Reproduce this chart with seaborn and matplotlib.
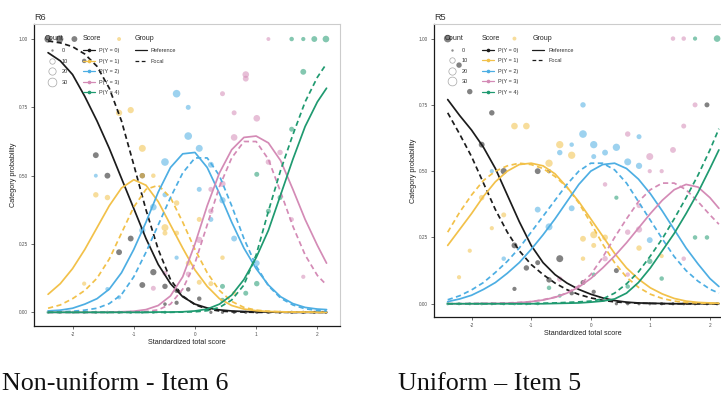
import numpy as np
import pandas as pd
import matplotlib
matplotlib.use("Agg")
import matplotlib.pyplot as plt
import seaborn as sns
from matplotlib.lines import Line2D

sns.set_theme(style="white")
plt.rcParams["font.family"] = ["Liberation Sans", "DejaVu Sans"]

# ---------------- data ----------------
CATEGORIES = ["P(Y = 0)", "P(Y = 1)", "P(Y = 2)", "P(Y = 3)", "P(Y = 4)"]
COLORS = ["#1c1c1c", "#F2C14A", "#4DAEE3", "#D48BB6", "#1F9A70"]
GROUPS = ["Reference", "Focal"]
COUNT_LEVELS = [0, 10, 20, 30]
X_TICKS = [-2, -1, 0, 1, 2]
Y_TICKS = [0.0, 0.25, 0.5, 0.75, 1.0]
Y_TICK_LABELS = ["0.00", "0.25", "0.50", "0.75", "1.00"]
PANEL_TITLES = ["R6", "R5"]
CAPTIONS = ["Non-uniform - Item 6", "Uniform \u2013 Item 5"]

CURVE_X = [-2.4, -2.2, -2.0, -1.8, -1.6, -1.4, -1.2, -1.0, -0.8, -0.6, -0.4, -0.2,
           0.0, 0.2, 0.4, 0.6, 0.8, 1.0, 1.2, 1.4, 1.6, 1.8, 2.0, 2.15]

# R6 (non-uniform) - reference group curves
R6_REF_P0 = [.95, .92, .87, .79, .70, .60, .49, .38, .27, .175, .105, .057, .03, .016, .009, .005, .003, .002, .001, .001, 0, 0, 0, 0]
R6_REF_P1 = [.066, .105, .16, .23, .31, .39, .455, .485, .465, .405, .32, .235, .155, .095, .05, .025, .012, .006, .003, .002, .001, .001, 0, 0]
R6_REF_P2 = [.005, .008, .015, .03, .05, .085, .145, .23, .33, .44, .53, .58, .585, .53, .435, .33, .235, .16, .10, .057, .032, .018, .012, .01]
R6_REF_P3 = [0, 0, 0, 0, 0, .001, .002, .004, .01, .025, .06, .13, .25, .39, .51, .595, .64, .645, .62, .555, .45, .34, .245, .18]
R6_REF_P4 = [0, 0, 0, 0, 0, 0, 0, 0, 0, .001, .001, .002, .005, .012, .03, .063, .12, .20, .30, .43, .56, .68, .77, .82]
# R6 - focal group curves
R6_FOC_P0 = [.993, .986, .972, .945, .90, .82, .70, .54, .375, .23, .12, .06, .028, .012, .005, .002, .001, 0, 0, 0, 0, 0, 0, 0]
R6_FOC_P1 = [.015, .027, .05, .08, .125, .195, .29, .385, .45, .465, .42, .33, .23, .145, .08, .04, .018, .008, .004, .002, .001, .001, 0, 0]
R6_FOC_P2 = [.001, .002, .004, .008, .015, .032, .065, .13, .22, .32, .42, .51, .565, .565, .50, .39, .27, .17, .097, .052, .027, .013, .007, .005]
R6_FOC_P3 = [0, 0, 0, 0, 0, 0, 0, .001, .003, .009, .03, .085, .18, .32, .46, .565, .625, .625, .56, .44, .315, .21, .135, .10]
R6_FOC_P4 = [0, 0, 0, 0, 0, 0, 0, 0, 0, 0, 0, .001, .002, .006, .018, .045, .10, .21, .37, .52, .65, .77, .86, .91]

# R5 (uniform) - reference group curves
R5_REF_P0 = [.77, .71, .655, .59, .51, .41, .31, .22, .155, .11, .078, .054, .036, .022, .012, .006, .003, .002, .001, 0, 0, 0, 0, 0]
R5_REF_P1 = [.22, .28, .34, .405, .46, .50, .525, .53, .52, .49, .44, .385, .32, .255, .19, .135, .093, .06, .037, .02, .01, .005, .003, .002]
R5_REF_P2 = [.008, .018, .032, .054, .08, .115, .155, .205, .26, .32, .385, .45, .50, .525, .53, .51, .47, .415, .35, .28, .21, .15, .095, .065]
R5_REF_P3 = [0, 0, 0, .001, .001, .002, .004, .008, .014, .024, .04, .063, .095, .135, .18, .23, .285, .34, .39, .43, .45, .44, .40, .36]
R5_REF_P4 = [0, 0, 0, 0, 0, 0, 0, 0, 0, .001, .002, .003, .006, .01, .018, .04, .08, .135, .20, .265, .34, .42, .51, .58]
# R5 - focal group curves
R5_FOC_P0 = [.72, .64, .555, .455, .355, .27, .20, .148, .11, .078, .053, .035, .022, .013, .007, .004, .002, .001, 0, 0, 0, 0, 0, 0]
R5_FOC_P1 = [.27, .345, .41, .465, .50, .52, .53, .525, .51, .48, .44, .38, .305, .225, .155, .10, .062, .036, .02, .01, .005, .003, .001, .001]
R5_FOC_P2 = [.015, .03, .052, .08, .118, .16, .21, .27, .33, .39, .45, .50, .53, .53, .505, .455, .385, .315, .245, .178, .125, .085, .055, .04]
R5_FOC_P3 = [0, 0, .001, .001, .002, .003, .005, .008, .015, .025, .04, .068, .11, .175, .25, .32, .385, .43, .455, .455, .43, .385, .335, .30]
R5_FOC_P4 = [0, 0, 0, 0, 0, 0, 0, 0, .002, .003, .005, .007, .01, .018, .04, .075, .12, .18, .245, .32, .40, .485, .58, .66]

# empirical points: (standardized score, proportion, count)
R6_PTS_0 = [(-2.40, 1.00, 20), (-2.21, 1.00, 20), (-1.97, 1.00, 12), (-1.81, 0.92, 6), (-1.62, 0.575, 12),
            (-1.43, 0.50, 12), (-1.05, 0.27, 12), (-1.24, 0.22, 12), (-0.86, 0.50, 10), (-0.68, 0.147, 14),
            (-0.86, 0.10, 12), (-0.49, 0.095, 10), (-0.49, 0.03, 3), (-0.30, 0.08, 8), (-0.30, 0.035, 5),
            (-0.11, 0.084, 6), (0.07, 0.05, 6), (0.26, 0, 2), (0.45, 0, 2), (0.64, 0, 2), (0.83, 0, 2),
            (1.01, 0, 2), (1.20, 0, 2), (1.39, 0, 2), (1.58, 0, 2), (1.77, 0, 2), (1.95, 0, 2), (2.14, 0, 2)]
R6_PTS_1 = [(-1.24, 1.00, 4), (-1.24, 0.73, 14), (-1.05, 0.74, 14), (-0.86, 0.60, 18), (-1.62, 0.43, 10),
            (-1.43, 0.42, 10), (-0.86, 0.50, 10), (-0.68, 0.50, 6), (-0.30, 0.40, 10), (-0.49, 0.31, 18),
            (-0.49, 0.29, 8), (-0.30, 0.29, 8), (-1.81, 0.105, 5), (0.07, 0.34, 8), (-0.11, 0.18, 8),
            (0.45, 0.20, 6), (0.07, 0.11, 8), (0.26, 0.105, 8), (0.64, 0.07, 6)]
R6_PTS_2 = [(-0.30, 0.80, 22), (-0.11, 0.75, 8), (-0.49, 0.55, 22), (-0.11, 0.645, 22), (0.07, 0.60, 18),
            (0.26, 0.54, 12), (-1.62, 0.50, 4), (-0.49, 0.43, 8), (-0.68, 0.385, 16), (-0.86, 0.30, 14),
            (-0.30, 0.20, 5), (-1.43, 0.085, 5), (-1.24, 0.055, 5), (0.07, 0.45, 8), (0.45, 0.41, 14),
            (0.26, 0.34, 8), (0.64, 0.27, 12), (1.01, 0.18, 12)]
R6_PTS_3 = [(1.20, 1.00, 4), (0.83, 0.87, 16), (0.83, 0.855, 12), (0.45, 0.80, 8), (0.64, 0.73, 8),
            (1.01, 0.71, 16), (0.64, 0.64, 16), (1.39, 0.585, 10), (1.20, 0.55, 10), (0.45, 0.47, 14),
            (0.26, 0.45, 8), (0.26, 0.37, 10), (1.58, 0.34, 6), (0.07, 0.265, 14), (-0.11, 0.14, 8),
            (1.77, 0.13, 5), (-0.68, 0.088, 8), (-0.49, 0.143, 8)]
R6_PTS_4 = [(1.58, 1.00, 6), (1.77, 1.00, 5), (1.95, 1.00, 12), (2.14, 1.00, 16), (1.77, 0.88, 12),
            (1.58, 0.67, 8), (1.01, 0.505, 8), (1.39, 0.42, 8), (1.20, 0.37, 8), (1.01, 0.105, 10),
            (0.45, 0.095, 8), (0.83, 0.07, 8), (0.45, 0.045, 6), (-2.40, 0, 2), (-2.21, 0, 2), (-1.99, 0, 2),
            (-1.81, 0, 2), (-1.62, 0, 2), (-1.43, 0, 2), (-1.24, 0, 2), (-1.05, 0, 2), (-0.86, 0, 2),
            (-0.68, 0, 2), (-0.49, 0, 2)]

R5_PTS_0 = [(-2.40, 1.00, 22), (-2.21, 0.90, 10), (-2.03, 0.80, 10), (-1.66, 0.72, 10), (-1.83, 0.60, 12),
            (-1.46, 0.50, 14), (-0.89, 0.50, 12), (-0.70, 0.50, 5), (-1.28, 0.22, 12), (-0.52, 0.17, 18),
            (-1.08, 0.135, 10), (-0.89, 0.155, 8), (-0.70, 0.09, 10), (-1.28, 0.056, 5), (-0.32, 0.04, 6),
            (0.43, 0.125, 8), (-0.13, 0.08, 8), (0.05, 0.045, 5), (1.95, 0.75, 8), (0.43, 0, 2), (0.62, 0, 2),
            (0.81, 0, 2), (0.99, 0, 2), (1.19, 0, 2), (1.38, 0, 2), (1.56, 0, 2), (1.75, 0, 2), (1.95, 0, 2),
            (2.12, 0, 2)]
R5_PTS_1 = [(-1.28, 1.00, 4), (-1.28, 0.67, 16), (-1.08, 0.67, 16), (-0.52, 0.60, 20), (-0.32, 0.56, 20),
            (-0.70, 0.53, 20), (-1.83, 0.40, 10), (-1.46, 0.335, 8), (-1.66, 0.285, 5), (-2.03, 0.20, 5),
            (-2.21, 0.10, 5), (-0.13, 0.245, 12), (0.05, 0.26, 18), (0.24, 0.25, 12), (0.05, 0.22, 8),
            (0.81, 0.21, 10), (-0.13, 0.17, 6), (1.19, 0.18, 5)]
R5_PTS_2 = [(-0.13, 0.75, 10), (-0.13, 0.64, 22), (0.05, 0.60, 20), (0.24, 0.57, 12), (0.43, 0.59, 20),
            (0.05, 0.555, 8), (0.62, 0.535, 18), (0.81, 0.52, 14), (0.81, 0.63, 8), (-0.32, 0.60, 6),
            (-0.52, 0.57, 10), (-1.66, 0.50, 5), (-0.89, 0.355, 12), (-0.70, 0.29, 18), (-0.32, 0.36, 12),
            (-1.46, 0.17, 6), (0.99, 0.24, 12)]
R5_PTS_3 = [(1.38, 1.00, 6), (1.56, 1.00, 6), (1.75, 0.75, 8), (1.56, 0.67, 8), (0.62, 0.64, 10),
            (0.99, 0.555, 18), (1.38, 0.58, 12), (0.99, 0.50, 5), (1.19, 0.50, 5), (0.24, 0.45, 6),
            (0.81, 0.37, 8), (0.62, 0.27, 10), (0.81, 0.28, 14), (0.24, 0.17, 10), (1.56, 0.17, 6),
            (0.62, 0.11, 6), (-0.52, 0.093, 10)]
R5_PTS_4 = [(1.75, 1.00, 5), (2.12, 1.00, 16), (0.43, 0.40, 5), (1.75, 0.25, 6), (1.95, 0.25, 6),
            (0.99, 0.16, 10), (0.05, 0.11, 5), (1.19, 0.095, 6), (0.62, 0.065, 6), (-0.70, 0.06, 6),
            (-0.52, 0.03, 4), (-2.40, 0, 2), (-2.21, 0, 2), (-2.03, 0, 2), (-1.83, 0, 2), (-1.66, 0, 2),
            (-1.46, 0, 2), (-1.28, 0, 2), (-1.08, 0, 2), (-0.89, 0, 2)]

# ---------------- helpers ----------------
SIZE_RANGE = (3, 40)
SIZE_NORM = (0, 30)


def curve_frame(ref_lists, foc_lists):
    rows = []
    for g, lists in zip(GROUPS, (ref_lists, foc_lists)):
        for cat, vals in zip(CATEGORIES, lists):
            for x, y in zip(CURVE_X, vals):
                rows.append((x, y, cat, g))
    return pd.DataFrame(rows, columns=["score", "prob", "category", "group"])


def point_frame(point_lists):
    rows = []
    for cat, pts in zip(CATEGORIES, point_lists):
        for x, y, n in pts:
            rows.append((x, y, n, cat))
    return pd.DataFrame(rows, columns=["score", "prob", "count", "category"])


def size_of(n):
    lo, hi = SIZE_RANGE
    return lo + (hi - lo) * (n - SIZE_NORM[0]) / (SIZE_NORM[1] - SIZE_NORM[0])


def add_legends(ax):
    common = dict(frameon=False, loc="upper left", fontsize=4, title_fontsize=5,
                  borderpad=0, borderaxespad=0, labelspacing=1.0, alignment="left",
                  labelcolor="#333333")
    h_count = []
    for n in COUNT_LEVELS:
        ms = np.sqrt(size_of(n))
        if n == 0:
            h_count.append(Line2D([], [], ls="", marker="o", ms=ms, mfc="#8c8c8c", mec="none"))
        else:
            h_count.append(Line2D([], [], ls="", marker="o", ms=ms, mfc="white",
                                  mec="#a6a6a6", mew=0.5))
    leg1 = ax.legend(h_count, [str(n) for n in COUNT_LEVELS], title="Count",
                     bbox_to_anchor=(0.036, 0.962), handlelength=2.5, handletextpad=0.5, **common)
    ax.add_artist(leg1)
    h_score = [Line2D([], [], color=c, lw=0.9, marker="o", ms=1.6) for c in COLORS]
    leg2 = ax.legend(h_score, CATEGORIES, title="Score", bbox_to_anchor=(0.160, 0.962),
                     handlelength=2.15, handletextpad=0.7, **common)
    ax.add_artist(leg2)
    h_group = [Line2D([], [], color="#1c1c1c", lw=0.9),
               Line2D([], [], color="#1c1c1c", lw=0.9, dashes=(3, 2))]
    ax.legend(h_group, GROUPS, title="Group", bbox_to_anchor=(0.330, 0.962),
              handlelength=2.15, handletextpad=0.7, **common)


def draw_panel(ax, title, curves, points):
    sns.scatterplot(data=points, x="score", y="prob", hue="category", hue_order=CATEGORIES,
                    palette=COLORS, size="count", sizes=SIZE_RANGE, size_norm=SIZE_NORM,
                    alpha=0.55, linewidth=0, legend=False, ax=ax, zorder=2)
    sns.lineplot(data=curves, x="score", y="prob", hue="category", hue_order=CATEGORIES,
                 palette=COLORS, style="group", style_order=GROUPS,
                 dashes={"Reference": "", "Focal": (3, 2)}, linewidth=1.25,
                 estimator=None, legend=False, ax=ax, zorder=3)
    for ln in ax.lines:
        ln.set_solid_joinstyle("round")
        ln.set_dash_joinstyle("round")
    ax.set_xlim(-2.63, 2.37)
    ax.set_ylim(-0.05, 1.055)
    ax.set_xticks(X_TICKS)
    ax.set_xticklabels([str(t) for t in X_TICKS])
    ax.set_yticks(Y_TICKS)
    ax.set_yticklabels(Y_TICK_LABELS)
    for s in ["top", "right"]:
        ax.spines[s].set_color("#cccccc")
        ax.spines[s].set_linewidth(0.8)
    for s in ["left", "bottom"]:
        ax.spines[s].set_color("#1a1a1a")
        ax.spines[s].set_linewidth(0.9)
    ax.tick_params(axis="both", which="major", length=2.5, width=0.5, color="#333333",
                   labelsize=3.4, labelcolor="#4d4d4d", pad=1.8, left=True, bottom=True)
    ax.set_xlabel("Standardized total score", fontsize=5.2, color="#222222", labelpad=1.5)
    ax.set_ylabel("Category probability", fontsize=5.2, color="#222222", labelpad=1.5)
    ax.set_title(title, loc="left", fontsize=6.6, color="#333333", pad=3)
    add_legends(ax)


fig = plt.figure(figsize=(7.21, 3.94), dpi=100)
fig.patch.set_facecolor("white")

ax1 = fig.add_axes([34 / 721, 1 - 326 / 394, 306 / 721, 302 / 394])
ax2 = fig.add_axes([434 / 721, 1 - 317 / 394, 298 / 721, 293 / 394])

cur6 = curve_frame([R6_REF_P0, R6_REF_P1, R6_REF_P2, R6_REF_P3, R6_REF_P4],
                   [R6_FOC_P0, R6_FOC_P1, R6_FOC_P2, R6_FOC_P3, R6_FOC_P4])
pts6 = point_frame([R6_PTS_0, R6_PTS_1, R6_PTS_2, R6_PTS_3, R6_PTS_4])
cur5 = curve_frame([R5_REF_P0, R5_REF_P1, R5_REF_P2, R5_REF_P3, R5_REF_P4],
                   [R5_FOC_P0, R5_FOC_P1, R5_FOC_P2, R5_FOC_P3, R5_FOC_P4])
pts5 = point_frame([R5_PTS_0, R5_PTS_1, R5_PTS_2, R5_PTS_3, R5_PTS_4])

draw_panel(ax1, PANEL_TITLES[0], cur6, pts6)
draw_panel(ax2, PANEL_TITLES[1], cur5, pts5)

fig.text(0.0025, 1 - 390 / 394, CAPTIONS[0], family=["Liberation Serif", "DejaVu Serif"],
         fontsize=18.7, color="#111111", ha="left", va="baseline")
fig.text(398 / 721, 1 - 390 / 394, CAPTIONS[1], family=["Liberation Serif", "DejaVu Serif"],
         fontsize=18.7, color="#111111", ha="left", va="baseline")

fig.savefig("out.png", dpi=100)
